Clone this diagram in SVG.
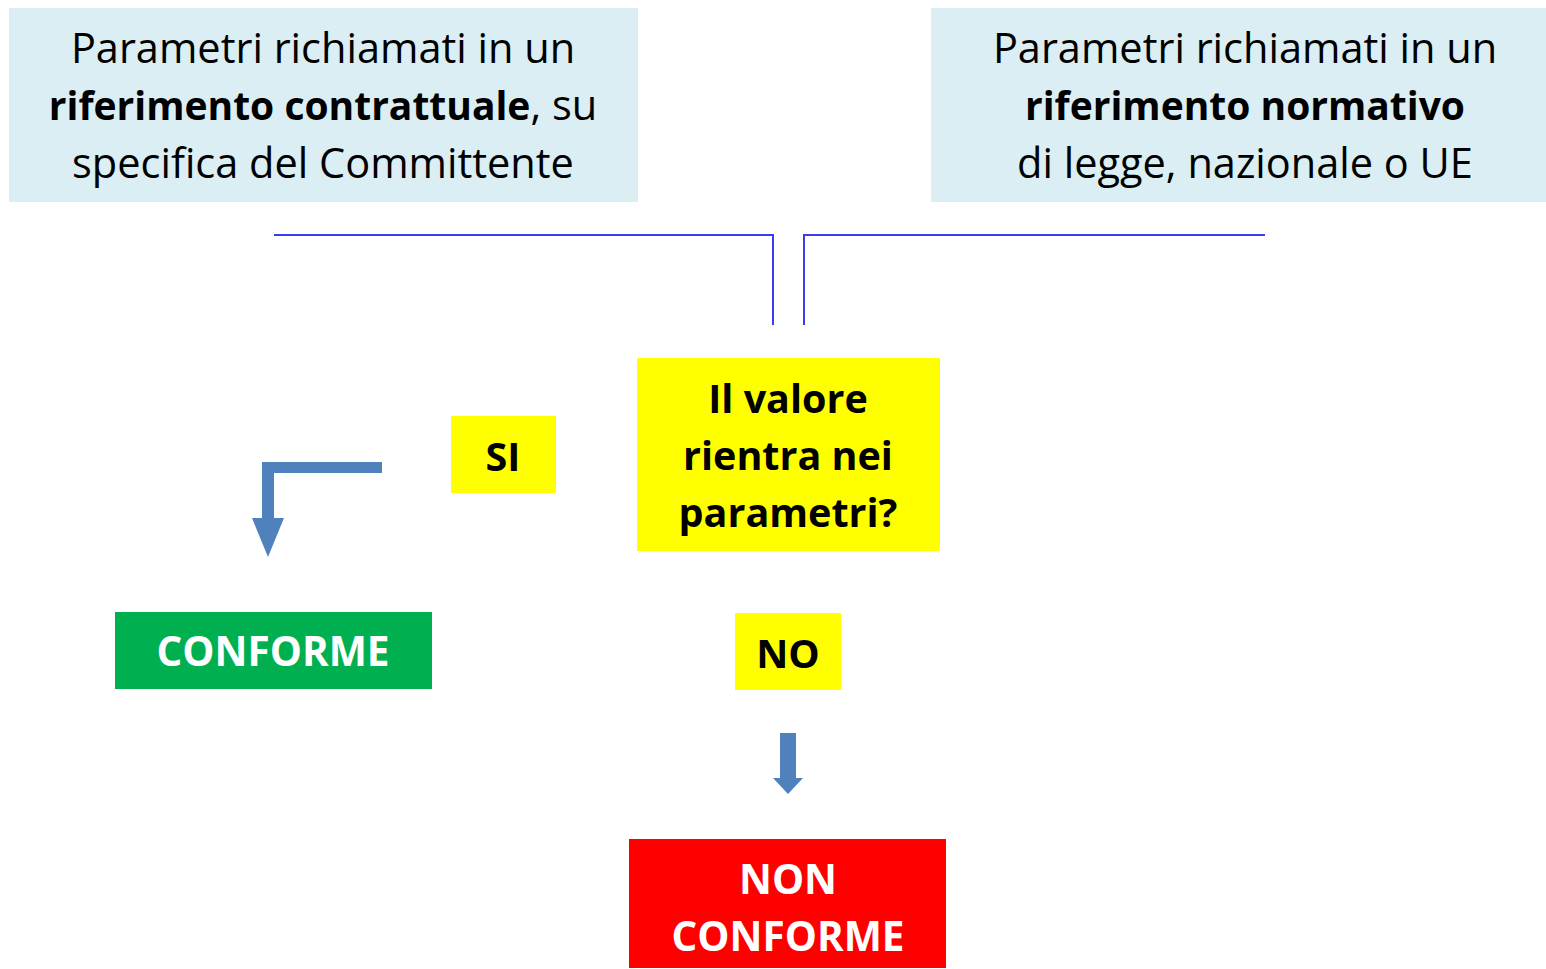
<svg xmlns="http://www.w3.org/2000/svg" width="1546" height="969" viewBox="0 0 1546 969">
<style>
.t{font-family:"Open Sans","Noto Sans",sans-serif;text-anchor:middle;fill:#000}
.hd{font-size:41.5px}
.b{font-weight:bold;font-size:39px}
.q{font-size:39.5px;font-weight:bold}
.c{font-size:40.5px}
.w{fill:#fff}
.conn{fill:none;stroke:#3b3bf5;stroke-width:2}
.arr{fill:#4f81bd}
</style>
<rect width="1546" height="969" fill="#fff"/>
<g id="node-contrattuale">
<rect x="9" y="8" width="629" height="194" fill="#daeef3"/>
<text class="t hd" x="323" y="63">Parametri richiamati in un</text>
<text class="t hd" x="323" y="120"><tspan class="b">riferimento contrattuale</tspan>, su</text>
<text class="t hd" x="323" y="178">specifica del Committente</text>
</g>
<g id="node-normativo">
<rect x="931" y="8" width="615" height="194" fill="#daeef3"/>
<text class="t hd" x="1245" y="63">Parametri richiamati in un</text>
<text class="t hd b" x="1245" y="120">riferimento normativo</text>
<text class="t hd" x="1245" y="178">di legge, nazionale o UE</text>
</g>
<g id="node-domanda">
<rect x="637" y="358" width="303" height="193" fill="#ffff00"/>
<text class="t q" x="788" y="413">Il valore</text>
<text class="t q" x="788" y="470">rientra nei</text>
<text class="t q" x="788" y="527">parametri?</text>
</g>
<g id="node-si">
<rect x="451" y="416" width="105" height="77" fill="#ffff00"/>
<text class="t q" x="503" y="471">SI</text>
</g>
<g id="node-no">
<rect x="735" y="613" width="106" height="77" fill="#ffff00"/>
<text class="t q" x="788" y="668">NO</text>
</g>
<g id="node-conforme">
<rect x="115" y="612" width="317" height="77" fill="#00b050"/>
<text class="t q c w" x="273" y="666">CONFORME</text>
</g>
<g id="node-non-conforme">
<rect x="629" y="839" width="317" height="129" fill="#ff0000"/>
<text class="t q c w" x="788" y="894">NON</text>
<text class="t q c w" x="788" y="951">CONFORME</text>
</g>
<g id="connectors">
<polyline class="conn" points="274,235 773,235 773,325"/>
<polyline class="conn" points="1265,235 804,235 804,325"/>
<polygon class="arr" points="382,462 382,473 274,473 274,518 284,518 268,557 252,518 262,518 262,462"/>
<polygon class="arr" points="780,733 796,733 796,778 803,778 788,794 773,778 780,778"/>
</g>
</svg>
